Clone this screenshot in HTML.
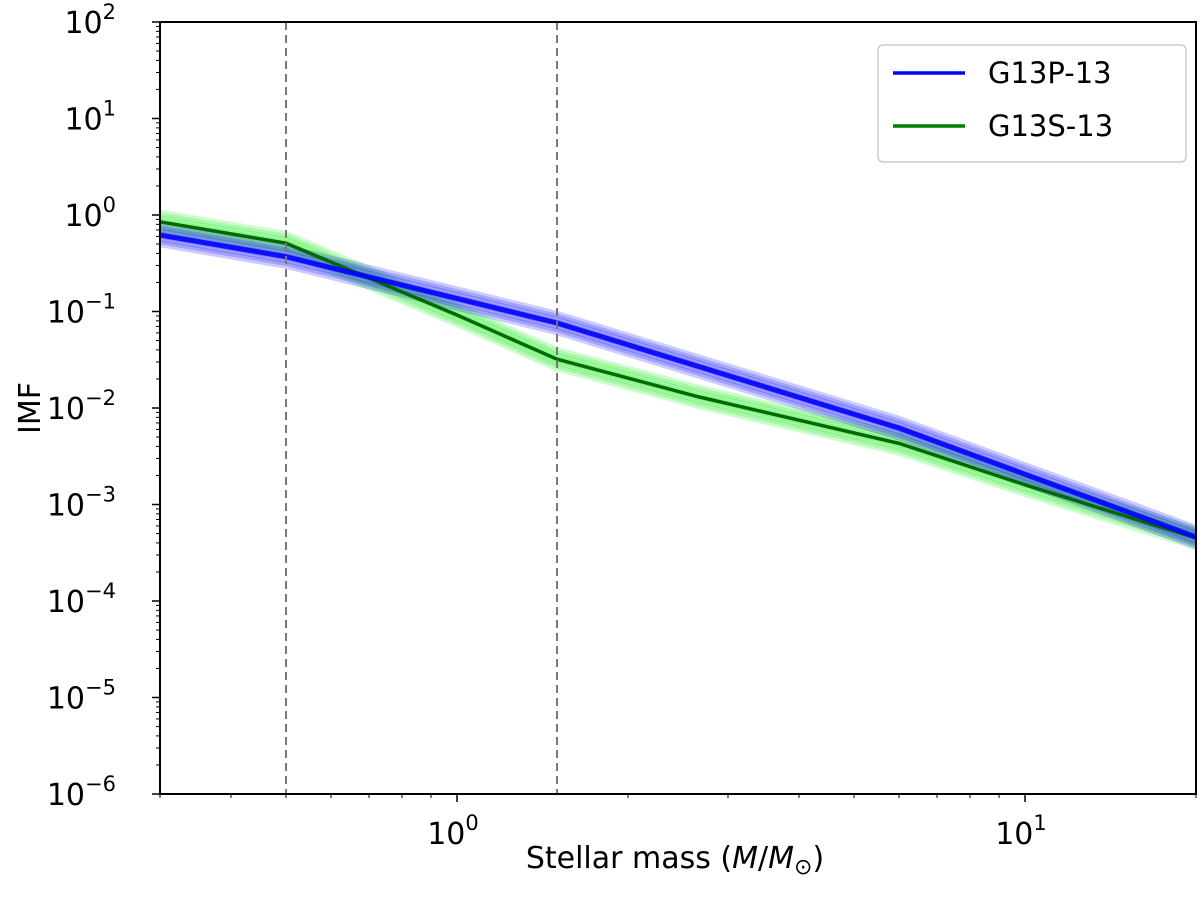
<!DOCTYPE html>
<html><head><meta charset="utf-8"><style>
body{margin:0;background:#fff}
svg text{font-family:"DejaVu Sans","Liberation Sans",sans-serif;fill:#000}
</style></head><body>
<svg id="chart" width="1200" height="901" viewBox="0 0 1200 901" xmlns="http://www.w3.org/2000/svg">
<g id="bands"></g>
<g id="lines"></g>
<g id="axes"></g>
<text transform="translate(40,408) rotate(-90)" text-anchor="middle" font-size="30">IMF</text>
<text x="675" y="868" text-anchor="middle" font-size="30">Stellar mass (<tspan font-style="italic">M</tspan>/<tspan font-style="italic">M</tspan><tspan font-size="22" dy="6">⊙</tspan><tspan dy="-6">)</tspan></text>
<g>
<rect x="878" y="45" width="308" height="117" rx="5" fill="#fff" fill-opacity="0.8" stroke="#ccc" stroke-width="1.5"/>
<line x1="893" y1="73" x2="965" y2="73" stroke="#0000ff" stroke-width="3.5"/>
<text x="988" y="83" font-size="29">G13P-13</text>
<line x1="893" y1="126" x2="965" y2="126" stroke="#008000" stroke-width="3.5"/>
<text x="988" y="136" font-size="29">G13S-13</text>
</g>
</svg>
<script>
const blueMass=[0.3,0.5,1.5,6,20];
const blueIMF=[0.62,0.37,0.076,0.0062,0.00046];
const greenMass=[0.3,0.5,1.0,1.5,2.67,6,10,20];
const greenIMF=[0.85,0.51,0.092,0.032,0.013,0.0043,0.0016,0.00045];
const xTickVals=[1,10];
const xTickLabels=["0","1"];
const yTickExps=[2,1,0,-1,-2,-3,-4,-5,-6];
const vlineMass=[0.5,1.5];

const L=160,R=1196,T=22,B=794;
const xmin=Math.log10(0.3),xmax=Math.log10(20),ymin=-6,ymax=2;
const X=m=>L+(Math.log10(m)-xmin)/(xmax-xmin)*(R-L);
const Y=v=>B-(Math.log10(v)-ymin)/(ymax-ymin)*(B-T);
const NS="http://www.w3.org/2000/svg";
function mk(tag,parent,attrs){const e=document.createElementNS(NS,tag);for(const k in attrs)e.setAttribute(k,attrs[k]);parent.appendChild(e);return e;}
const bands=document.getElementById('bands'),lines=document.getElementById('lines'),axes=document.getElementById('axes');

function band(ms,vs,color,w,op,name){
  for(let k=-3;k<=3;k++){
    const f=Math.pow(10,k*0.03);
    const pts=ms.map((m,i)=>X(m)+','+Y(vs[i]*f)).join(' ');
    const p=mk('polyline',bands,{points:pts,fill:'none',stroke:color,'stroke-width':w,'stroke-opacity':op});
    
    
  }
}
band(greenMass,greenIMF,'#22ee22',7,0.22,'g13s-band');
band(blueMass,blueIMF,'#1010ff',7,0.22,'g13p-band');

vlineMass.forEach(m=>{
  const l=mk('line',axes,{x1:X(m),x2:X(m),y1:T,y2:B,stroke:'#777','stroke-width':2,'stroke-dasharray':'8,5'});
  
  
});

const g=mk('polyline',lines,{points:greenMass.map((m,i)=>X(m)+','+Y(greenIMF[i])).join(' '),fill:'none',stroke:'#006a00','stroke-width':3.5});


const b=mk('polyline',lines,{points:blueMass.map((m,i)=>X(m)+','+Y(blueIMF[i])).join(' '),fill:'none',stroke:'#0000ff','stroke-width':5,'stroke-opacity':0.9});



const fr=mk('rect',axes,{x:L,y:T,width:R-L,height:B-T,fill:'none',stroke:'#000','stroke-width':2});



yTickExps.forEach(e=>{
  const y=Y(Math.pow(10,e));
  mk('line',axes,{x1:L-8,x2:L,y1:y,y2:y,stroke:'#000','stroke-width':1.5});
  const t=mk('text',axes,{x:L-44,y:y+11,'text-anchor':'end','font-size':30});
  
  
  t.innerHTML='10<tspan font-size="21" dy="-14">'+(e<0?'−'+(-e):e)+'</tspan>';
  if(e>ymin){for(let k=2;k<=9;k++){const yy=Y(k*Math.pow(10,e-1));mk('line',axes,{x1:L-4,x2:L,y1:yy,y2:yy,stroke:'#000','stroke-width':1});}}
});
xTickVals.forEach((v,i)=>{
  const x=X(v);
  mk('line',axes,{x1:x,x2:x,y1:B,y2:B+8,stroke:'#000','stroke-width':1.5});
  const t=mk('text',axes,{x:x-4,y:B+50,'text-anchor':'middle','font-size':30});
  
  
  t.innerHTML='10<tspan font-size="21" dy="-14">'+xTickLabels[i]+'</tspan>';
});
[0.3,0.4,0.5,0.6,0.7,0.8,0.9,2,3,4,5,6,7,8,9,20].forEach(v=>{const x=X(v);mk('line',axes,{x1:x,x2:x,y1:B,y2:B+4,stroke:'#000','stroke-width':1});});
</script>
</body></html>
